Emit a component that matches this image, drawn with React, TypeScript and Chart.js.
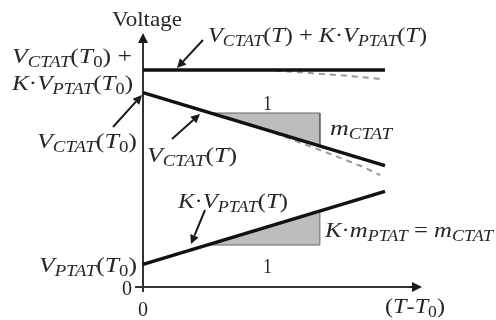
import { useEffect, useRef } from "react";
import { Chart, registerables } from "chart.js";

Chart.register(...registerables);

// Temperature offset (T - T0), normalised so the drawn range ends at 1
const tempEnds = [0, 1];
// Ideal (linear) voltages
const vCtat = [9.72, 6.07];
const kVptat = [1.13, 4.78];
const vSum = [10.85, 10.85];
// Real, slightly curved behaviour (dashed)
const curveX = [0.5, 0.6, 0.7, 0.8, 0.9, 0.98];
const sumCurve = [10.85, 10.78, 10.69, 10.6, 10.5, 10.4];
const ctatCurve = [7.895, 7.45, 6.99, 6.53, 6.05, 5.6];
// Slope triangles
const ctatTriX = [0.279, 0.731, 0.731, 0.279];
const ctatTriY = [8.7, 8.7, 7.05, 8.7];
const ptatTriX = [0.266, 0.731, 0.731, 0.266];
const ptatTriY = [2.1, 2.1, 3.8, 2.1];
// Axis extents
const xMax = 1.153;
const yMax = 12.85;

const pts = (xs: number[], ys: number[]) => xs.map((x, i) => ({ x, y: ys[i] }));

const FONT = '"Liberation Serif", "Times New Roman", serif';
const INK = "#262626";

// Draw a label: letters are italic, `_{...}` is a subscript.
function rich(
  ctx: CanvasRenderingContext2D,
  src: string,
  x: number,
  base: number,
  width?: number,
  plain = false
) {
  type Run = { t: string; it: boolean; sub: boolean };
  const runs: Run[] = [];
  let sub = false;
  for (let i = 0; i < src.length; i++) {
    const c = src[i];
    if (c === "_" && src[i + 1] === "{") {
      sub = true;
      i++;
      continue;
    }
    if (c === "}" && sub) {
      sub = false;
      continue;
    }
    const it = !plain && /[A-Za-z]/.test(c);
    const last = runs[runs.length - 1];
    if (last && last.it === it && last.sub === sub) last.t += c;
    else runs.push({ t: c, it, sub });
  }
  const font = (r: Run) =>
    `${r.it ? "italic " : ""}${r.sub ? 16 : 22}px ${FONT}`;
  let total = 0;
  for (const r of runs) {
    ctx.font = font(r);
    total += ctx.measureText(r.t).width;
  }
  const sx = width ? width / total : 1;
  ctx.save();
  ctx.translate(x, base);
  ctx.scale(sx, 1);
  ctx.fillStyle = INK;
  ctx.textBaseline = "alphabetic";
  ctx.textAlign = "left";
  let cx = 0;
  for (const r of runs) {
    ctx.font = font(r);
    ctx.fillText(r.t, cx, r.sub ? 4 : 0);
    cx += ctx.measureText(r.t).width;
  }
  ctx.restore();
}

function arrow(
  ctx: CanvasRenderingContext2D,
  x1: number,
  y1: number,
  x2: number,
  y2: number,
  head = 9,
  half = 4.5,
  lw = 2
) {
  const a = Math.atan2(y2 - y1, x2 - x1);
  const bx = x2 - head * Math.cos(a);
  const by = y2 - head * Math.sin(a);
  ctx.save();
  ctx.strokeStyle = "#1a1a1a";
  ctx.fillStyle = "#1a1a1a";
  ctx.lineWidth = lw;
  ctx.beginPath();
  ctx.moveTo(x1, y1);
  ctx.lineTo(bx, by);
  ctx.stroke();
  ctx.beginPath();
  ctx.moveTo(x2, y2);
  ctx.lineTo(bx + half * Math.sin(a), by - half * Math.cos(a));
  ctx.lineTo(bx - half * Math.sin(a), by + half * Math.cos(a));
  ctx.closePath();
  ctx.fill();
  ctx.restore();
}

const axesPlugin = {
  id: "axesArrows",
  beforeDatasetsDraw(chart: any) {
    const { ctx, scales } = chart;
    const x0 = scales.x.getPixelForValue(0);
    const y0 = scales.y.getPixelForValue(0);
    const xEnd = scales.x.getPixelForValue(xMax);
    const yEnd = scales.y.getPixelForValue(yMax);
    ctx.save();
    ctx.strokeStyle = "#333";
    ctx.lineWidth = 2;
    ctx.beginPath();
    ctx.moveTo(x0, y0 + 5);
    ctx.lineTo(x0, yEnd + 10);
    ctx.moveTo(x0 - 8, y0);
    ctx.lineTo(xEnd - 10, y0);
    ctx.stroke();
    ctx.restore();
    arrow(ctx, x0, yEnd + 12, x0, yEnd + 3, 10, 5);
    arrow(ctx, xEnd - 12, y0, xEnd, y0, 10, 5);
  },
  afterDatasetsDraw(chart: any) {
    const { ctx } = chart;
    rich(ctx, "Voltage", 112, 26, 70, true);
    rich(ctx, "V_{CTAT}(T_{0}) +", 12, 63, 120);
    rich(ctx, "K·V_{PTAT}(T_{0})", 12, 90, 121);
    rich(ctx, "V_{CTAT}(T_{0})", 37, 148, 100);
    rich(ctx, "V_{PTAT}(T_{0})", 39, 272, 98);
    rich(ctx, "0", 122, 295, 10, true);
    rich(ctx, "0", 138, 316, 10, true);
    rich(ctx, "V_{CTAT}(T)", 147, 162, 90);
    rich(ctx, "1", 263, 110, 9, true);
    rich(ctx, "m_{CTAT}", 330, 135, 62);
    rich(ctx, "V_{CTAT}(T) + K·V_{PTAT}(T)", 208, 42, 219);
    rich(ctx, "K·V_{PTAT}(T)", 178, 208, 110);
    rich(ctx, "K·m_{PTAT} = m_{CTAT}", 325, 237, 168);
    rich(ctx, "1", 263, 273, 9, true);
    rich(ctx, "(T-T_{0})", 385, 313, 60);

    arrow(ctx, 203, 40, 177, 68);
    arrow(ctx, 113, 127, 142, 95);
    arrow(ctx, 172, 139, 200, 114);
    arrow(ctx, 205, 210, 191, 244);
  },
};

export default function App() {
  const ref = useRef<HTMLCanvasElement | null>(null);

  useEffect(() => {
    if (!ref.current) return;
    const solid = { borderColor: "#111", borderWidth: 3.5, pointRadius: 0, showLine: true, fill: false, clip: false as any };
    const dashed = { borderColor: "#9a9a9a", borderWidth: 2, borderDash: [6, 5], pointRadius: 0, showLine: true, fill: false, clip: false as any };
    const tri = { borderColor: "#666", backgroundColor: "#bdbdbd", borderWidth: 1, pointRadius: 0, showLine: true, fill: "shape" as any, clip: false as any };

    const chart = new Chart(ref.current, {
      type: "scatter",
      data: {
        datasets: [
          { ...solid, label: "Vsum", data: pts(tempEnds, vSum) },
          { ...solid, label: "Vctat", data: pts(tempEnds, vCtat) },
          { ...solid, label: "KVptat", data: pts(tempEnds, kVptat) },
          { ...dashed, label: "sum real", data: pts(curveX, sumCurve) },
          { ...dashed, label: "ctat real", data: pts(curveX, ctatCurve) },
          { ...tri, label: "mCTAT", data: pts(ctatTriX, ctatTriY) },
          { ...tri, label: "mPTAT", data: pts(ptatTriX, ptatTriY) },
        ],
      },
      options: {
        animation: false,
        responsive: false,
        events: [],
        layout: { padding: { left: 143, right: 74, top: 30, bottom: 33 } },
        plugins: { legend: { display: false }, tooltip: { enabled: false } },
        scales: {
          x: { type: "linear", min: 0, max: xMax, display: false },
          y: { type: "linear", min: 0, max: yMax, display: false },
        },
      },
      plugins: [axesPlugin],
    });
    return () => chart.destroy();
  }, []);

  return (
    <div style={{ position: "absolute", left: 0, top: 0, width: 496, height: 320, background: "#fff" }}>
      <canvas ref={ref} width={496} height={320} style={{ display: "block" }} />
    </div>
  );
}
